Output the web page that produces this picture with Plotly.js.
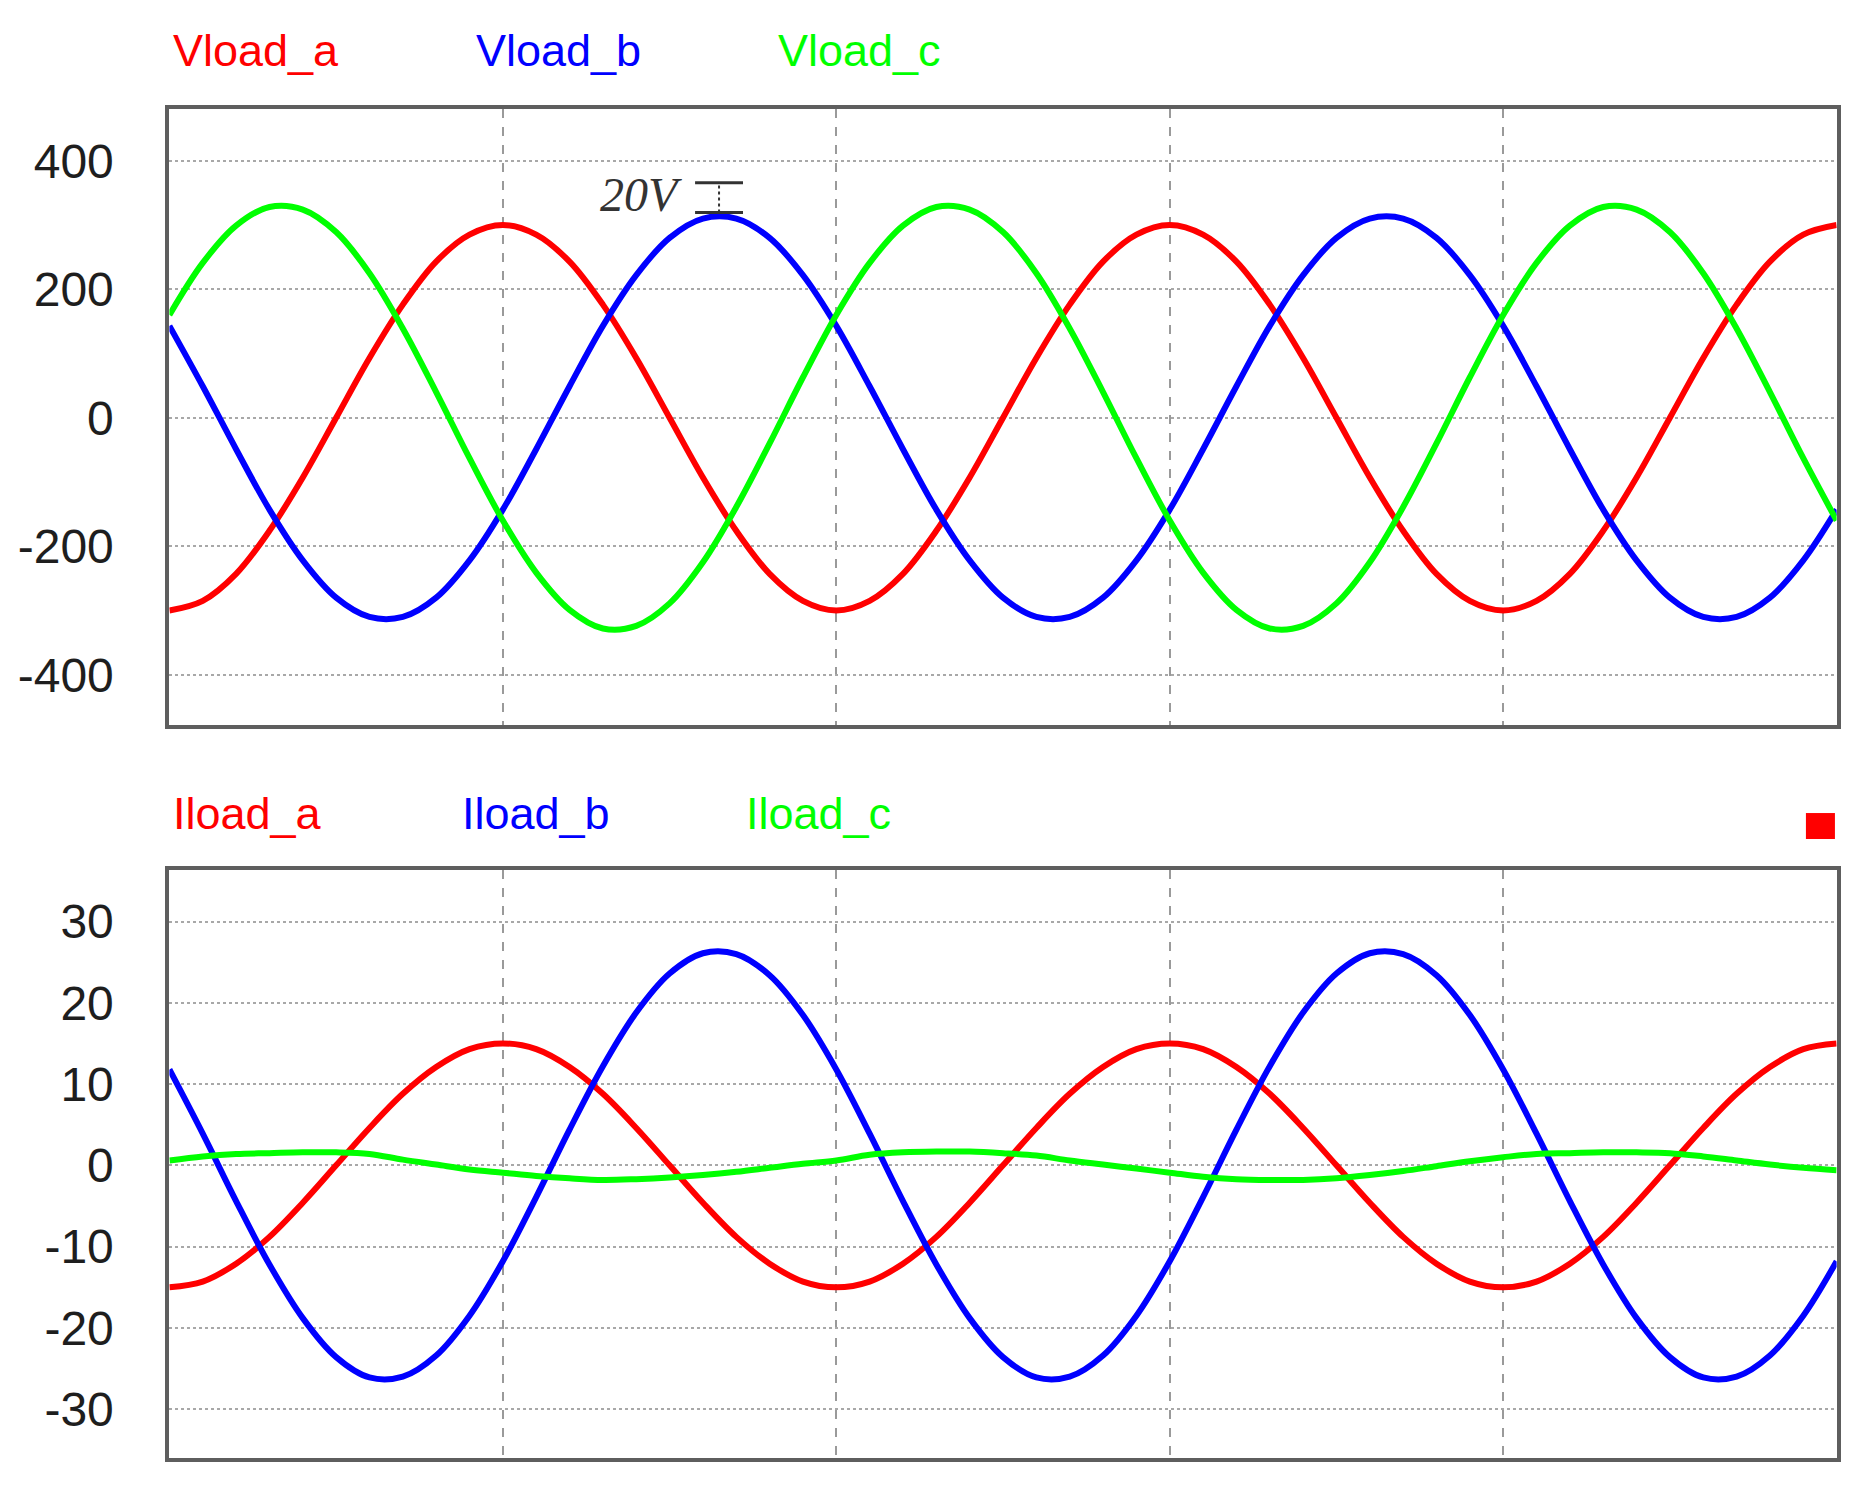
<!DOCTYPE html>
<html>
<head>
<meta charset="utf-8">
<script src="https://cdn.plot.ly/plotly-3.0.1.min.js"></script>
<style>
  body { margin: 0; background: #fff; }
  #graph { width: 1872px; height: 1485px; }
</style>
</head>
<body>
<div id="graph"></div>
<script>
// time in ms, 50 Hz, 2.5 cycles
var t = [0,1,2,3,4,5,6,7,8,9,10,11,12,13,14,15,16,17,18,19,
         20,21,22,23,24,25,26,27,28,29,30,31,32,33,34,35,36,37,38,39,
         40,41,42,43,44,45,46,47,48,49,50];

// load voltages (V)
var vloadA = [-300,-285,-243,-176,-93,0,93,176,243,285,300,285,243,176,93,0,-93,-176,-243,-285,
              -300,-285,-243,-176,-93,0,93,176,243,285,300,285,243,176,93,0,-93,-176,-243,-285,
              -300,-285,-243,-176,-93,0,93,176,243,285,300];
var vloadB = [143,49,-49,-143,-222,-280,-310,-310,-280,-222,-143,-49,49,143,222,280,310,310,280,222,
              143,49,-49,-143,-222,-280,-310,-310,-280,-222,-143,-49,49,143,222,280,310,310,280,222,
              143,49,-49,-143,-222,-280,-310,-310,-280,-222,-143];
var vloadC = [160,241,299,328,324,289,225,139,40,-63,-160,-241,-299,-328,-324,-289,-225,-139,-40,63,
              160,241,299,328,324,289,225,139,40,-63,-160,-241,-299,-328,-324,-289,-225,-139,-40,63,
              160,241,299,328,324,289,225,139,40,-63,-160];

// load currents (A)
var iloadA = [-15,-14.3,-12.1,-8.8,-4.6,0,4.6,8.8,12.1,14.3,15,14.3,12.1,8.8,4.6,0,-4.6,-8.8,-12.1,-14.3,
              -15,-14.3,-12.1,-8.8,-4.6,0,4.6,8.8,12.1,14.3,15,14.3,12.1,8.8,4.6,0,-4.6,-8.8,-12.1,-14.3,
              -15,-14.3,-12.1,-8.8,-4.6,0,4.6,8.8,12.1,14.3,15];
var iloadB = [11.8,3.9,-4.4,-12.2,-18.8,-23.6,-26.1,-26.0,-23.4,-18.5,-11.8,-3.9,4.4,12.2,18.8,23.6,26.1,26.0,23.4,18.5,
              11.8,3.9,-4.4,-12.2,-18.8,-23.6,-26.1,-26.0,-23.4,-18.5,-11.8,-3.9,4.4,12.2,18.8,23.6,26.1,26.0,23.4,18.5,
              11.8,3.9,-4.4,-12.2,-18.8,-23.6,-26.1,-26.0,-23.4,-18.5,-11.8];
var iloadC = [0.6,1.1,1.4,1.5,1.6,1.6,1.4,0.7,0.1,-0.5,-0.9,-1.3,-1.6,-1.8,-1.7,-1.5,-1.2,-0.8,-0.3,0.2,
              0.6,1.3,1.6,1.7,1.7,1.5,1.2,0.6,0.1,-0.4,-0.9,-1.4,-1.7,-1.8,-1.8,-1.6,-1.2,-0.7,-0.1,0.5,
              1.0,1.4,1.5,1.6,1.6,1.5,1.1,0.6,0.1,-0.3,-0.6];

var vNames = ['Vload_a', 'Vload_b', 'Vload_c'];
var iNames = ['Iload_a', 'Iload_b', 'Iload_c'];
var colors = ['#ff0000', '#0000ff', '#00ff00'];
var vTicks = [-400, -200, 0, 200, 400];
var iTicks = [-30, -20, -10, 0, 10, 20, 30];
var tGrid = [10, 20, 30, 40];

var font = 'Liberation Sans, Arial, sans-serif';

var data = [];
[vloadA, vloadB, vloadC].forEach(function (y, i) {
  data.push({x: t, y: y, name: vNames[i], type: 'scatter', mode: 'lines',
             line: {color: colors[i], width: 6, shape: 'spline'}, xaxis: 'x', yaxis: 'y'});
});
[iloadA, iloadB, iloadC].forEach(function (y, i) {
  data.push({x: t, y: y, name: iNames[i], type: 'scatter', mode: 'lines',
             line: {color: colors[i], width: 6, shape: 'spline'}, xaxis: 'x2', yaxis: 'y2'});
});

function xAxis(anchor) {
  return {
    domain: [0.0905, 0.9811], range: [0, 50], anchor: anchor,
    tickvals: tGrid, showticklabels: false, ticks: '',
    showgrid: true, gridcolor: '#9a9a9a', gridwidth: 2, griddash: 'dash',
    zeroline: false, showline: true, mirror: true, linecolor: '#5e5e5e', linewidth: 4
  };
}
function yAxis(anchor, domain, range, ticks) {
  return {
    domain: domain, range: range, anchor: anchor,
    tickvals: ticks, ticktext: ticks.map(String), ticks: '', ticklabelstandoff: 42,
    tickfont: {family: font, size: 48, color: '#1e1e1e'},
    showgrid: true, gridcolor: '#a8a8a8', gridwidth: 2, griddash: 'dot',
    zeroline: false, showline: true, mirror: true, linecolor: '#5e5e5e', linewidth: 4
  };
}

var annotations = [];
var vX = [0.0913, 0.2532, 0.4145];
var iX = [0.0913, 0.2457, 0.3974];
vNames.forEach(function (n, i) {
  annotations.push({text: n, xref: 'paper', yref: 'paper', x: vX[i], y: 0.9663,
                    xanchor: 'left', yanchor: 'middle', showarrow: false,
                    font: {family: font, size: 45, color: colors[i]}});
});
iNames.forEach(function (n, i) {
  annotations.push({text: n, xref: 'paper', yref: 'paper', x: iX[i], y: 0.4525,
                    xanchor: 'left', yanchor: 'middle', showarrow: false,
                    font: {family: font, size: 45, color: colors[i]}});
});
// scale marker text
annotations.push({text: '<i>20V</i>', xref: 'paper', yref: 'paper', x: 0.3655, y: 0.869,
                  xanchor: 'right', yanchor: 'middle', showarrow: false,
                  font: {family: 'Liberation Serif, Times New Roman, serif', size: 48, color: '#333'}});

var shapes = [
  {type: 'line', xref: 'paper', yref: 'paper', x0: 0.3713, x1: 0.3969, y0: 0.8770, y1: 0.8770,
   line: {color: '#333', width: 3}},
  {type: 'line', xref: 'paper', yref: 'paper', x0: 0.3713, x1: 0.3969, y0: 0.8569, y1: 0.8569,
   line: {color: '#333', width: 3}},
  {type: 'line', xref: 'paper', yref: 'paper', x0: 0.3841, x1: 0.3841, y0: 0.8569, y1: 0.8770,
   line: {color: '#333', width: 2, dash: 'dot'}},
  {type: 'rect', xref: 'paper', yref: 'paper', x0: 0.9647, x1: 0.9802, y0: 0.4350, y1: 0.4525,
   fillcolor: '#ff0000', line: {width: 0}}
];

var layout = {
  width: 1872, height: 1485,
  margin: {l: 0, r: 0, t: 0, b: 0},
  paper_bgcolor: '#fff', plot_bgcolor: '#fff',
  showlegend: false,
  xaxis: xAxis('y'),
  yaxis: yAxis('x', [0.5119, 0.9268], [-478, 481], vTicks),
  xaxis2: xAxis('y2'),
  yaxis2: yAxis('x2', [0.01825, 0.4139], [-36, 36.3], iTicks),
  annotations: annotations,
  shapes: shapes
};

Plotly.newPlot('graph', data, layout, {staticPlot: true, displayModeBar: false});
</script>
</body>
</html>
